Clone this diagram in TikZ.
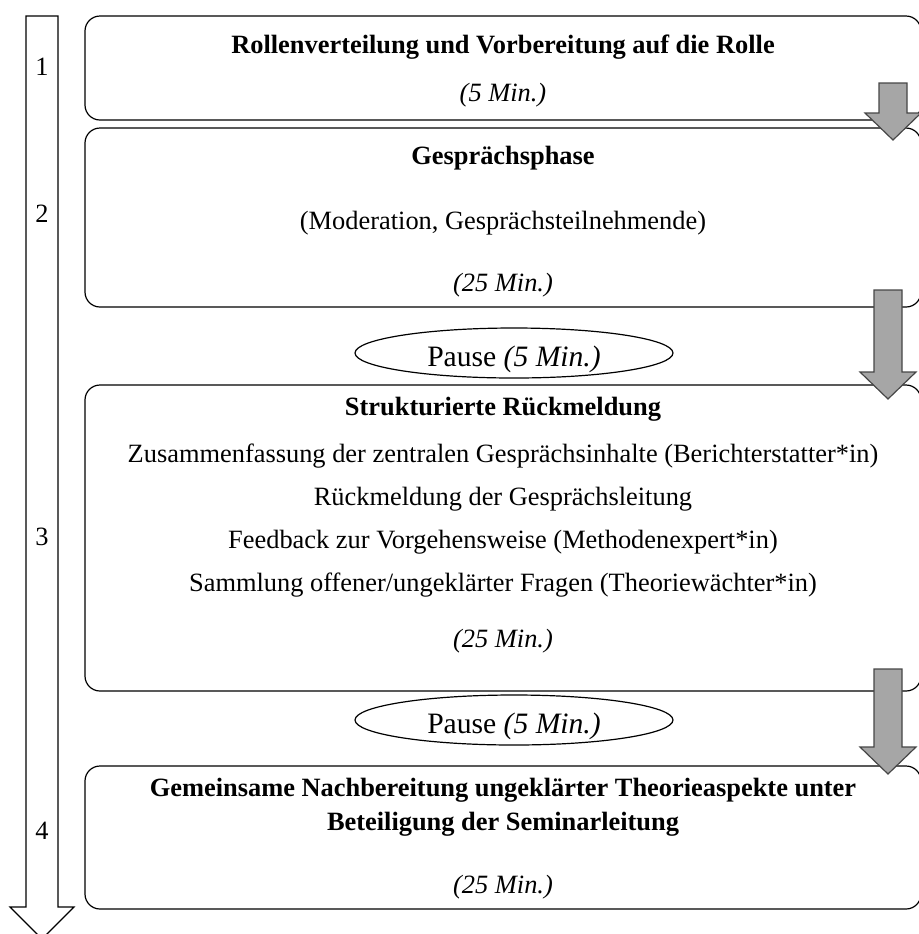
\documentclass[tikz,border=0pt]{standalone}
\usepackage{fontspec}
\setmainfont{Liberation Serif}
\usepackage{tikz}
\usetikzlibrary{shapes.geometric}
\definecolor{arrowgray}{RGB}{166,166,166}
\definecolor{arrowline}{RGB}{70,70,70}

\begin{document}
\begin{tikzpicture}[x=0.5pt, y=-0.5pt,
    phasebox/.style={draw, rounded corners=7.5pt, line width=0.6pt, minimum width=418pt, inner sep=0pt},
    pausebox/.style={draw, ellipse, line width=0.6pt, minimum width=159pt, minimum height=25pt, inner sep=0pt},
    txt/.style={anchor=base, inner sep=0pt, font=\fontsize{13.2}{15.8}\selectfont},
    pausetxt/.style={anchor=base, inner sep=0pt, font=\fontsize{14.8}{17.8}\selectfont},
    blockarrow/.style={draw=arrowline, fill=arrowgray, line width=0.6pt},
    timearrow/.style={draw, line width=0.6pt}]
  \useasboundingbox (0,0) rectangle (918,934);

  \draw[timearrow] (26,16) -- (58,16) -- (58,907) -- (74,907) -- (42,939) -- (10,907) -- (26,907) -- cycle;
  \node[txt] (n1) at (42,75) {1};
  \node[txt] (n2) at (42,222) {2};
  \node[txt] (n3) at (42,545) {3};
  \node[txt] (n4) at (42,839) {4};

  \node[phasebox, minimum height=52pt] (box1) at (503,68) {};
  \node[txt] (box1title) at (503,53) {\textbf{Rollenverteilung und Vorbereitung auf die Rolle}};
  \node[txt] (box1time) at (503,101) {\textit{(5 Min.)}};

  \node[phasebox, minimum height=89.5pt] (box2) at (503,217.5) {};
  \node[txt] (box2title) at (503,164) {\textbf{Gesprächsphase}};
  \node[txt] (box2roles) at (503,229) {(Moderation, Gesprächsteilnehmende)};
  \node[txt] (box2time) at (503,291) {\textit{(25 Min.)}};

  \node[pausebox] (pause1) at (514,353) {};
  \node[pausetxt] (pause1txt) at (514,366) {Pause \textit{(5 Min.)}};

  \node[phasebox, minimum height=153pt] (box3) at (503,538) {};
  \node[txt] (box3title) at (503,415) {\textbf{Strukturierte Rückmeldung}};
  \node[txt] (box3a) at (503,462) {Zusammenfassung der zentralen Gesprächsinhalte (Berichterstatter*in)};
  \node[txt] (box3b) at (503,505) {Rückmeldung der Gesprächsleitung};
  \node[txt] (box3c) at (503,548) {Feedback zur Vorgehensweise (Methodenexpert*in)};
  \node[txt] (box3d) at (503,591) {Sammlung offener/ungeklärter Fragen (Theoriewächter*in)};
  \node[txt] (box3time) at (503,647) {\textit{(25 Min.)}};

  \node[pausebox] (pause2) at (514,720) {};
  \node[pausetxt] (pause2txt) at (514,733) {Pause \textit{(5 Min.)}};

  \node[phasebox, minimum height=71.5pt] (box4) at (503,837.5) {};
  \node[txt] (box4title) at (503,796) {\textbf{Gemeinsame Nachbereitung ungeklärter Theorieaspekte unter}};
  \node[txt] (box4title2) at (503,830) {\textbf{Beteiligung der Seminarleitung}};
  \node[txt] (box4time) at (503,893) {\textit{(25 Min.)}};

  \draw[blockarrow] (879,83) -- (907,83) -- (907,113) -- (921,113) -- (893,140) -- (865,113) -- (879,113) -- cycle;
  \draw[blockarrow] (874,290) -- (902,290) -- (902,372) -- (916,372) -- (888,399) -- (860,372) -- (874,372) -- cycle;
  \draw[blockarrow] (874,669) -- (902,669) -- (902,747) -- (916,747) -- (888,774) -- (860,747) -- (874,747) -- cycle;
\end{tikzpicture}
\end{document}
